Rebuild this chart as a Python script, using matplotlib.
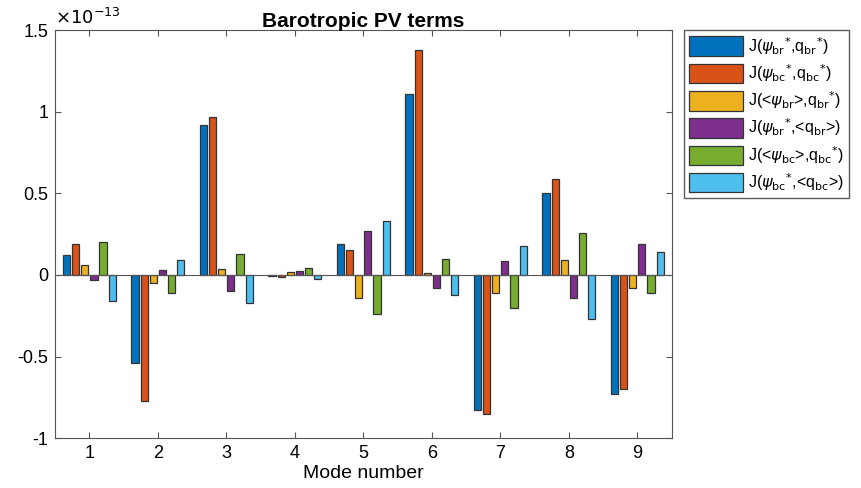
import numpy as np
import matplotlib
matplotlib.use('Agg')
import matplotlib.pyplot as plt

modes = [1, 2, 3, 4, 5, 6, 7, 8, 9]
scale = 1e-13

# values in units of 1e-13
j_br_br = [0.12, -0.54, 0.92, -0.005, 0.19, 1.11, -0.83, 0.50, -0.73]
j_bc_bc = [0.19, -0.77, 0.97, -0.010, 0.15, 1.38, -0.85, 0.59, -0.70]
j_mbr_br = [0.06, -0.05, 0.035, 0.015, -0.14, 0.01, -0.11, 0.09, -0.08]
j_br_mbr = [-0.03, 0.03, -0.10, 0.025, 0.27, -0.08, 0.085, -0.14, 0.19]
j_mbc_bc = [0.20, -0.11, 0.13, 0.045, -0.24, 0.095, -0.20, 0.255, -0.11]
j_bc_mbc = [-0.16, 0.09, -0.17, -0.025, 0.33, -0.12, 0.18, -0.27, 0.14]

labels = [
    r'J($\psi_{\rm br}{}^{*}$,q$_{\rm br}{}^{*}$)',
    r'J($\psi_{\rm bc}{}^{*}$,q$_{\rm bc}{}^{*}$)',
    r'J(<$\psi_{\rm br}$>,q$_{\rm br}{}^{*}$)',
    r'J($\psi_{\rm br}{}^{*}$,<q$_{\rm br}$>)',
    r'J(<$\psi_{\rm bc}$>,q$_{\rm bc}{}^{*}$)',
    r'J($\psi_{\rm bc}{}^{*}$,<q$_{\rm bc}$>)',
]
colors = ['#0072BD', '#D95319', '#EDB120', '#7E2F8E', '#77AC30', '#4DBEEE']

series = [j_br_br, j_bc_bc, j_mbr_br, j_br_mbr, j_mbc_bc, j_bc_mbc]

plt.rcParams['font.family'] = ['Liberation Sans', 'DejaVu Sans']
plt.rcParams['mathtext.fontset'] = 'dejavusans'

fig = plt.figure(figsize=(8.61, 4.88), dpi=100)
ax = fig.add_axes([0.064, 0.102, 0.716, 0.8365])

x = np.array(modes, dtype=float)
step = 0.133
width = 0.105
for i, (vals, c, lab) in enumerate(zip(series, colors, labels)):
    off = (i - 2.5) * step
    ax.bar(x + off, np.array(vals) * scale, width=width, color=c,
           edgecolor='#333333', linewidth=0.9, label=lab, zorder=3)

ax.axhline(0, color='#555555', linewidth=0.8, zorder=4)
ax.set_xlim(0.5, 9.5)
ax.set_ylim(-1e-13, 1.5e-13)
ax.set_xticks(modes)
ax.set_yticks(np.array([-1, -0.5, 0, 0.5, 1, 1.5]) * scale)
ax.yaxis.set_major_formatter(
    matplotlib.ticker.FuncFormatter(lambda v, p: '%g' % round(v / scale, 3)))
ax.text(0.0, 1.005, r'$\times10^{-13}$', transform=ax.transAxes,
        fontsize=13, ha='left', va='bottom')
ax.tick_params(direction='in', top=True, right=True, labelsize=13,
               length=4, color='#555555', pad=5)
for s in ax.spines.values():
    s.set_color('#555555')
    s.set_linewidth(0.8)

ax.set_title('Barotropic PV terms', fontsize=15, fontweight='bold', pad=2)
ax.set_xlabel('Mode number', fontsize=14, labelpad=2)

ax.legend(loc='upper left', bbox_to_anchor=(1.02, 1.0), fontsize=11.5,
          handlelength=3.4, handleheight=1.5, fancybox=False,
          edgecolor='#333333', borderaxespad=0, labelspacing=0.35,
          handletextpad=0.3, borderpad=0.3)

fig.savefig('out.png', dpi=100)
